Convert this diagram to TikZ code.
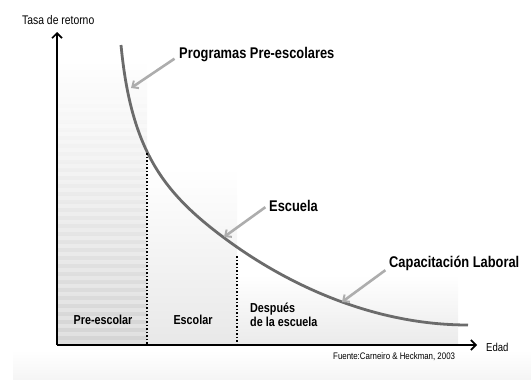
\documentclass[tikz,border=0pt]{standalone}
\usepackage{fontspec}
\setmainfont{Liberation Sans}
\newfontfamily\nfont{Liberation Sans}[FakeStretch=0.83]
\usetikzlibrary{arrows.meta}
\begin{document}
\begin{tikzpicture}[x=1pt,y=-1pt]
        \tikzstyle{axis}=[draw, line width=2pt, -{Straight Barb[length=5pt,width=10pt,line width=1.6pt]}]
        \tikzstyle{ptr}=[draw, black!32, line width=2.6pt, -{Straight Barb[length=5pt,width=9pt,line width=2pt]}]
        \tikzstyle{tag}=[font=\nfont\bfseries\fontsize{15.5}{17}\selectfont, anchor=west, inner sep=2pt]
        \tikzstyle{zone}=[font=\nfont\bfseries\fontsize{13}{14}\selectfont, align=left, inner sep=0pt]
        \tikzstyle{sep}=[draw, line width=1.5pt, dotted]
        \useasboundingbox (0,0) rectangle (531,380);
        % fondo
        \shade[top color=white, bottom color=black!4] (13,350) rectangle (531,380);
        \shade[top color=white, bottom color=black!17] (57,60) rectangle (147,345);
        \shade[top color=white, bottom color=black!9] (147,168) rectangle (237,345);
        \shade[top color=white, bottom color=black!8] (237,275) rectangle (458,345);
        \foreach \y in {100,108,...,340}
            \fill[white, opacity=0.3] (57,\y) rectangle (147,\y+4);
        % ejes
        \coordinate (o) at (57,345);
        \coordinate (yend) at (57,32);
        \coordinate (xend) at (477,345);
        \path[axis] (o) -- (yend);
        \path[axis] (o) -- (xend);
        \node [font=\nfont\fontsize{12.5}{14}\selectfont, anchor=west, inner sep=0pt] (ylab) at (22,20) {Tasa de retorno};
        \node [font=\nfont\fontsize{11.5}{13}\selectfont, anchor=west, inner sep=0pt] (xlab) at (486,347) {Edad};
        % curva
        \draw[black!58, line width=2.8pt] (121,45) .. controls (131,150) and (163,192) .. (223,237)
            .. controls (283,282) and (370,325) .. (468,325);
        \coordinate (c1) at (131,88);
        \coordinate (c2) at (224,237);
        \coordinate (c3) at (342,302);
        % separadores
        \coordinate (d1t) at (147,153);
        \coordinate (d1b) at (147,345);
        \coordinate (d2t) at (237,256);
        \coordinate (d2b) at (237,345);
        \path[sep] (d1t) -- (d1b);
        \path[sep] (d2t) -- (d2b);
        % etiquetas
        \node [tag] (prog) at (177,55) {Programas Pre-escolares};
        \node [tag] (esc) at (267,206) {Escuela};
        \node [tag] (cap) at (387,263) {Capacitación Laboral};
        \path[ptr, shorten <=3pt] ([yshift=-2pt]prog.west) -- (c1);
        \path[ptr, shorten <=2pt] (esc.west) -- (c2);
        \path[ptr, shorten <=2pt] ([yshift=-6pt]cap.west) -- (c3);
        \node [zone] (pre) at (103,320) {Pre-escolar};
        \node [zone] (escolar) at (193,320) {Escolar};
        \node [zone, anchor=west] (desp) at (250,315) {Después\\de la escuela};
        \node [font=\nfont\fontsize{9.5}{11}\selectfont, anchor=west, inner sep=0pt] (src) at (333,357) {Fuente:Carneiro \& Heckman, 2003};
\end{tikzpicture}
\end{document}
